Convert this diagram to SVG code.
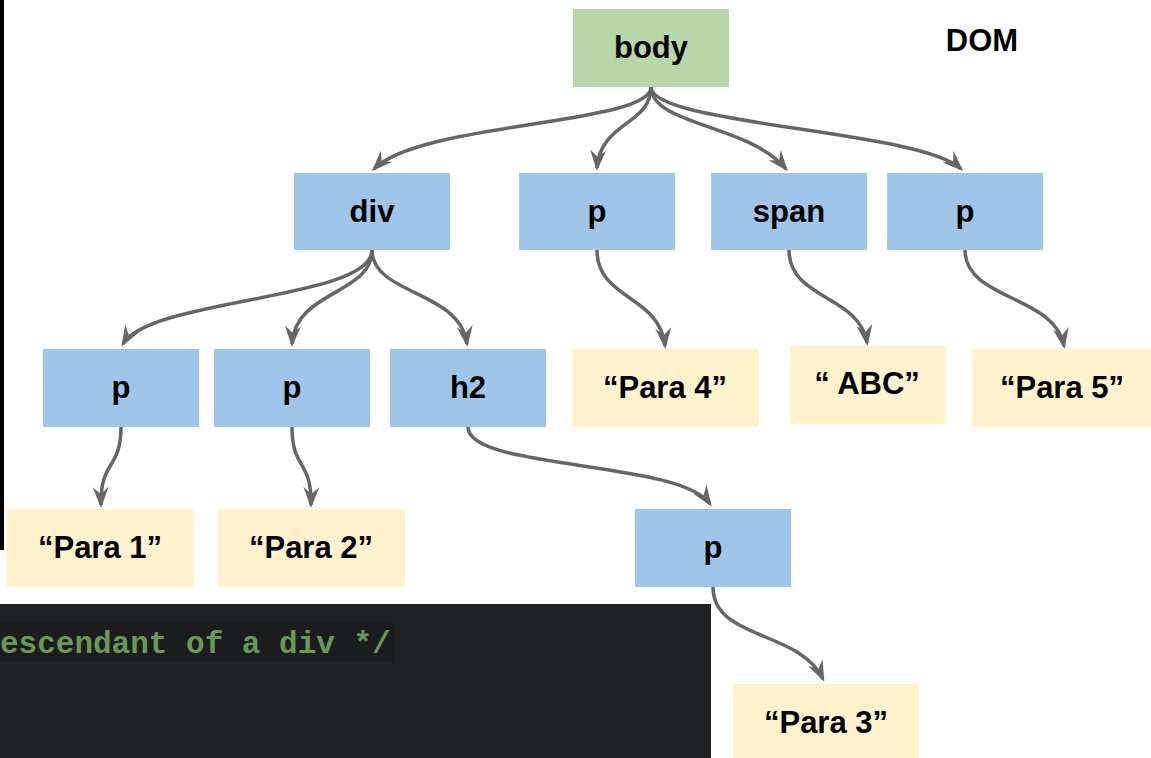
<svg xmlns="http://www.w3.org/2000/svg" width="1151" height="758" viewBox="0 0 1151 758">
<style>
.g{fill:#b7d7a8}
.b{fill:#9fc5e8}
.y{fill:#fff2cc}
.t{font-family:"Liberation Sans",Arial,sans-serif;font-weight:bold;font-size:31px;fill:#000;text-anchor:middle}
.e{fill:none;stroke:#666666;stroke-width:3.5;marker-end:url(#arr)}
.code{font-family:"Liberation Mono","Courier New",monospace;font-weight:bold;font-size:31px;fill:#6a9955}
</style>
<defs>
<marker id="arr" markerUnits="userSpaceOnUse" viewBox="-25 -15 35 30" markerWidth="35" markerHeight="30" refX="0" refY="0" orient="auto" overflow="visible">
<path d="M3,0 L-18,-8 L-11,0 L-18,8 Z" fill="#666666"/>
</marker>
</defs>
<rect width="1151" height="758" fill="#ffffff"/>
<g id="background">
<rect x="0" y="0" width="4" height="550" fill="#000000"/>
<rect x="0" y="604" width="711" height="154" fill="#202124"/>
<rect x="0" y="623" width="394" height="38" fill="#1b1c1e"/>
<text class="code" x="0" y="653">escendant of a div */</text>
</g>
<g id="title"><text class="t" x="982" y="51">DOM</text></g>
<g id="connectors">
<path class="e" d="M651,87 C651,125 420,122 374,169"/>
<path class="e" d="M651,87 C651,125 600,122 597,168"/>
<path class="e" d="M651,87 C651,125 750,125 786,169"/>
<path class="e" d="M651,87 C651,125 920,130 961,169"/>
<path class="e" d="M372,250 C372,300 150,298 123,344"/>
<path class="e" d="M372,250 C372,295 295,290 292,344"/>
<path class="e" d="M372,250 C372,295 460,290 467,344"/>
<path class="e" d="M597,250 C597,300 660,295 665,346"/>
<path class="e" d="M789,250 C789,300 860,295 867,343"/>
<path class="e" d="M965,250 C965,300 1055,295 1064,346"/>
<path class="e" d="M121,427 C121,470 100,460 101,505"/>
<path class="e" d="M292,427 C292,470 312,460 311,505"/>
<path class="e" d="M468,427 C468,470 680,460 710,504"/>
<path class="e" d="M713,587 C713,640 800,630 823,679"/>
</g>
<g id="n-body"><rect class="g" x="573" y="9" width="156" height="78"/><text class="t" x="651" y="58">body</text></g>
<g id="n-div"><rect class="b" x="294" y="173" width="156" height="77"/><text class="t" x="372" y="222">div</text></g>
<g id="n-p4"><rect class="b" x="519" y="173" width="156" height="77"/><text class="t" x="597" y="222">p</text></g>
<g id="n-span"><rect class="b" x="711" y="173" width="156" height="77"/><text class="t" x="789" y="222">span</text></g>
<g id="n-p5"><rect class="b" x="887" y="173" width="156" height="77"/><text class="t" x="965" y="222">p</text></g>
<g id="n-p1"><rect class="b" x="43" y="349" width="156" height="78"/><text class="t" x="121" y="398">p</text></g>
<g id="n-p2"><rect class="b" x="214" y="349" width="156" height="78"/><text class="t" x="292" y="398">p</text></g>
<g id="n-h2"><rect class="b" x="390" y="349" width="156" height="78"/><text class="t" x="468" y="398">h2</text></g>
<g id="t-para4"><rect class="y" x="572" y="349" width="187" height="78"/><text class="t" x="665" y="398">“Para 4”</text></g>
<g id="t-abc"><rect class="y" x="790" y="346" width="156" height="78"/><text class="t" x="867" y="394">“ ABC”</text></g>
<g id="t-para5"><rect class="y" x="972" y="349" width="179" height="78"/><text class="t" x="1062" y="398">“Para 5”</text></g>
<g id="t-para1"><rect class="y" x="7" y="509" width="187" height="78"/><text class="t" x="100" y="558">“Para 1”</text></g>
<g id="t-para2"><rect class="y" x="218" y="509" width="187" height="78"/><text class="t" x="311" y="558">“Para 2”</text></g>
<g id="n-p3"><rect class="b" x="635" y="509" width="156" height="78"/><text class="t" x="713" y="558">p</text></g>
<g id="t-para3"><rect class="y" x="733" y="684" width="186" height="74"/><text class="t" x="826" y="733">“Para 3”</text></g>
</svg>
